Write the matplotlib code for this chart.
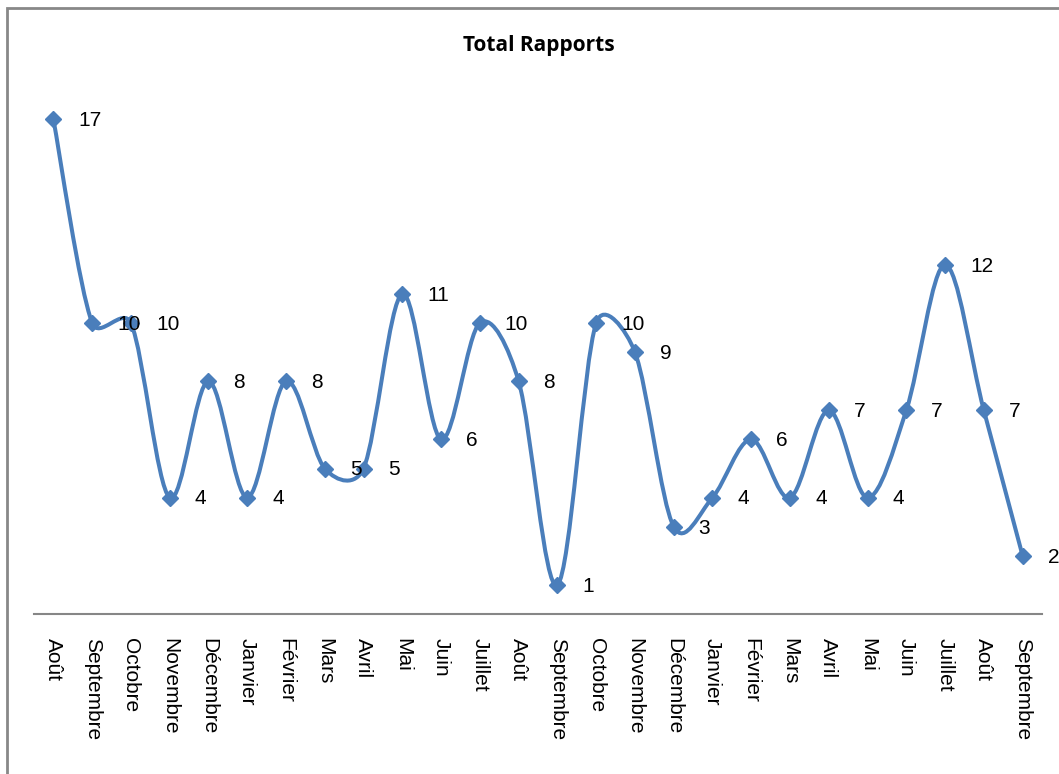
import matplotlib
matplotlib.use("Agg")
import matplotlib.pyplot as plt
from matplotlib.path import Path
from matplotlib.patches import PathPatch, Rectangle
import numpy as np

months = ["Août", "Septembre", "Octobre", "Novembre", "Décembre", "Janvier",
          "Février", "Mars", "Avril", "Mai", "Juin", "Juillet", "Août",
          "Septembre", "Octobre", "Novembre", "Décembre", "Janvier", "Février",
          "Mars", "Avril", "Mai", "Juin", "Juillet", "Août", "Septembre"]
values = [17, 10, 10, 4, 8, 4, 8, 5, 5, 11, 6, 10, 8, 1, 10, 9, 3, 4, 6, 4,
          7, 4, 7, 12, 7, 2]
title = "Total Rapports"

plt.rcParams['font.family'] = ['Liberation Sans', 'DejaVu Sans']
color = "#4A7EBB"

W, H = 1059, 774
fig = plt.figure(figsize=(W / 100, H / 100), dpi=100)
ax = fig.add_axes([34 / W, 1 - 614 / H, 1008 / W, (614 - 32) / H])
ax.set_xlim(-0.5, len(values) - 0.5)
ax.set_ylim(0, 20)

x = np.arange(len(values), dtype=float)
y = np.array(values, dtype=float)

# Excel-like smoothed line: Catmull-Rom Bezier in display space,
# with control handles limited relative to the segment length
P = ax.transData.transform(np.column_stack([x, y]))
n = len(P)
f = 0.5
def handle(T, L):
    d = np.hypot(*T)
    if d > f * L and d > 0:
        T = T * (f * L / d)
    return T
verts = [tuple(P[0])]
codes = [Path.MOVETO]
for i in range(n - 1):
    p0 = P[i - 1] if i > 0 else P[i]
    p1 = P[i]
    p2 = P[i + 1]
    p3 = P[i + 2] if i + 2 < n else P[i + 1]
    L = np.hypot(*(p2 - p1))
    c1 = p1 + handle((p2 - p0) / 6.0, L)
    c2 = p2 - handle((p3 - p1) / 6.0, L)
    verts += [tuple(c1), tuple(c2), tuple(p2)]
    codes += [Path.CURVE4] * 3
verts = ax.transData.inverted().transform(np.array(verts))
ax.add_patch(PathPatch(Path(verts, codes), facecolor='none', edgecolor=color,
                       lw=2.9, capstyle='round', joinstyle='round', zorder=2))
ax.plot(x, y, linestyle='none', marker='D', ms=8.5, color=color,
        mec=color, mew=1, zorder=3)

for xi, yi in zip(x, y):
    ax.annotate(str(int(yi)), (xi, yi), xytext=(18, -1), textcoords='offset points',
                ha='left', va='center', fontsize=15, color='black', zorder=4)

for s in ['left', 'right', 'top']:
    ax.spines[s].set_visible(False)
ax.spines['bottom'].set_color('#868686')
ax.spines['bottom'].set_linewidth(1.5)
ax.set_yticks([])
ax.set_xticks(x)
ax.set_xticklabels(months, rotation=270, fontsize=15)
ax.tick_params(axis='x', length=0, pad=17)
ax.patch.set_alpha(0)

fig.text(539 / W, 1 - 45 / H, title, ha='center', va='center',
         fontsize=15, fontweight='bold', family=['Open Sans', 'DejaVu Sans'])

# chart border (left and top visible)
fig.add_artist(Rectangle((7 / W, -0.1), 1.2, 1 - 8 / H + 0.1,
                         transform=fig.transFigure, facecolor='none',
                         edgecolor='#888888', lw=2, clip_on=False))

fig.savefig("out.png", dpi=100)
